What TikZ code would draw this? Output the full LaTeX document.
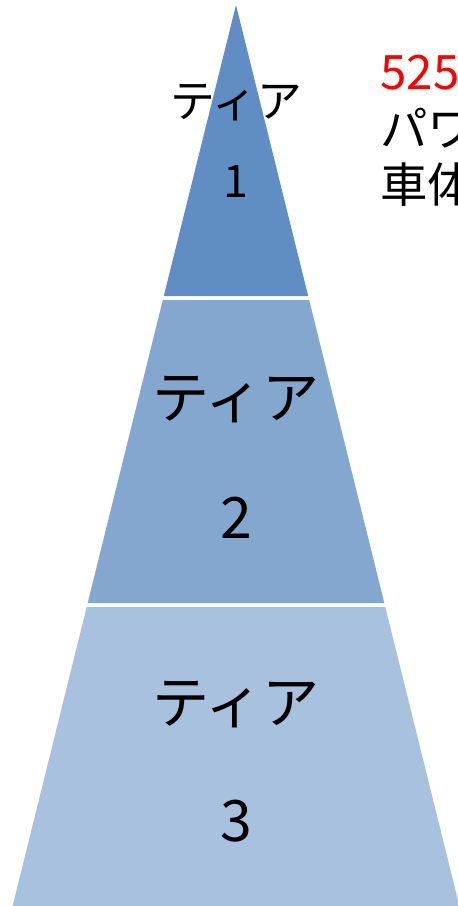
\documentclass[tikz,border=0pt]{standalone}
\usepackage{fontspec}
\newfontfamily\jpfont{Noto Sans CJK JP}
\usetikzlibrary{positioning}
\definecolor{tierA}{HTML}{5F8DC4}
\definecolor{tierB}{HTML}{84A7CF}
\definecolor{tierC}{HTML}{A8C1DF}
\definecolor{noteRed}{HTML}{FF0000}

\begin{document}
\begin{tikzpicture}[x=0.02cm,y=-0.02cm,
  tiersmall/.style={font=\jpfont\fontsize{25.5}{30}\selectfont,inner sep=0pt},
  tierbig/.style={font=\jpfont\fontsize{32.5}{38}\selectfont,inner sep=0pt},
  note/.style={font=\jpfont\fontsize{27}{32}\selectfont,inner sep=0pt,anchor=west}]
\useasboundingbox (0,0) rectangle (457,906);
% three tiers, one triangle cut in bands
\fill[tierA] (236,5)--(308.2,296)--(163.8,296)--cycle;
\fill[tierB] (162.8,300)--(309.2,300)--(384.3,603)--(87.7,603)--cycle;
\fill[tierC] (86.7,607)--(385.3,607)--(459.4,906)--(12.6,906)--cycle;
\node[tiersmall] (tier1name) at (236,103) {ティア};
\node[tiersmall] (tier1num) at (236,182) {1};
\node[tierbig] (tier2name) at (236,400) {ティア};
\node[tierbig] (tier2num) at (236,518) {2};
\node[tierbig] (tier3name) at (236,705) {ティア};
\node[tierbig] (tier3num) at (236,821) {3};
\node[note,text=noteRed] (noteA) at (380,73) {525};
\node[note] (noteB) at (380,128) {パワ};
\node[note] (noteC) at (380,185) {車体};
\end{tikzpicture}
\end{document}
